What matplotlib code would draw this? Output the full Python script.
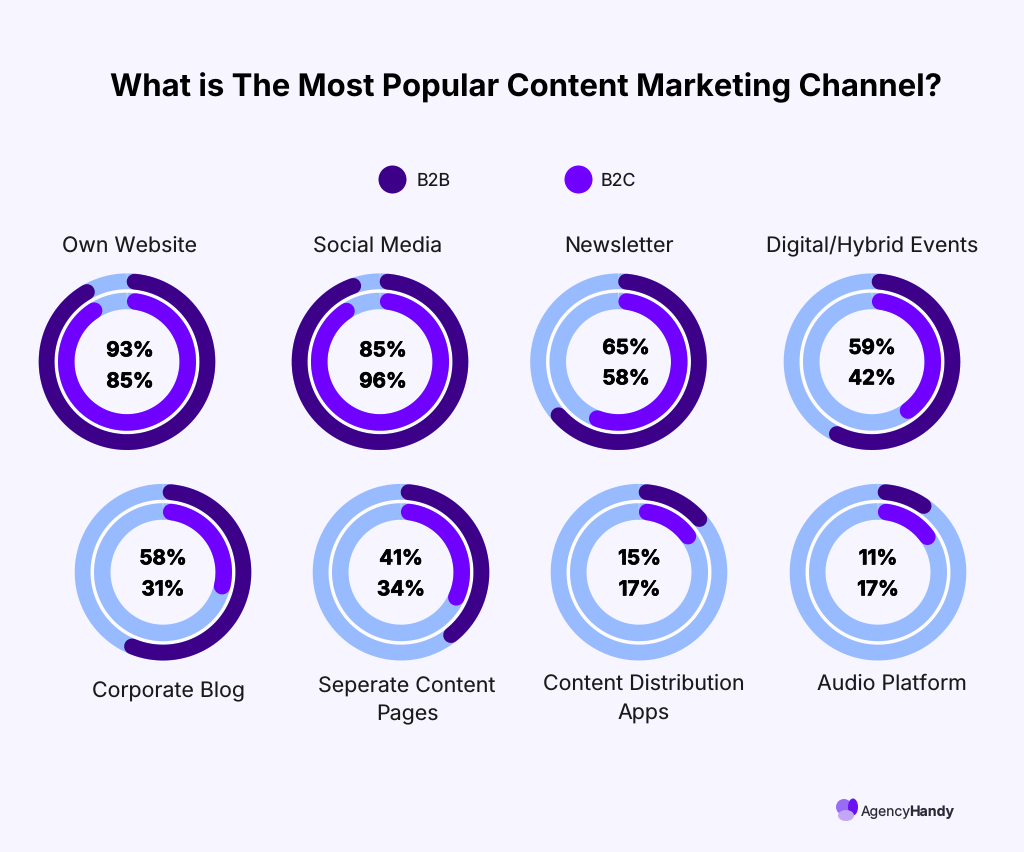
import numpy as np
import matplotlib
matplotlib.use("Agg")
import matplotlib.pyplot as plt
import matplotlib.patheffects as pe
from matplotlib.patches import Ellipse

plt.rcParams["text.hinting"] = "none"

channels = ["Own Website", "Social Media", "Newsletter", "Digital/Hybrid Events",
            "Corporate Blog", "Seperate Content\nPages", "Content Distribution\nApps", "Audio Platform"]
# printed percentages
b2b_label = [93, 85, 65, 59, 58, 41, 15, 11]
b2c_label = [85, 96, 58, 42, 31, 34, 17, 17]
# how far each arc is actually drawn in the picture (percent of the ring)
b2b_arc = [91.7, 94.6, 63.4, 57.2, 56.3, 39.3, 13.5, 9.6]
b2c_arc = [90.9, 90.7, 55.7, 39.9, 28.7, 31.8, 14.9, 15.1]

# layout in pixels
centers = [(127, 362.7), (380, 362.7), (618.5, 362.7), (872, 362.7),
           (163, 573.2), (401, 573.2), (639, 573.2), (878, 573.2)]
name_pos = [(130, 246), (378, 246), (619, 246), (872, 246),
            (168, 692), (407, 701), (644, 698.5), (892, 684)]
value_pos = [(130, 352, 383), (383, 352, 383), (626, 349.5, 380), (872, 349.5, 380),
             (163, 560, 591), (401, 560, 591), (639.5, 560, 591), (878, 560, 591)]

W, H = 1024, 853
BG = "#F7F5FF"
DARK = "#3D0089"
BRIGHT = "#7000FF"
LIGHT = "#98BBFF"
FONT = "Inter"


def px(v):
    return v * 72 / 100


fig = plt.figure(figsize=(W / 100, H / 100), dpi=100, facecolor=BG)
bg = fig.add_axes([0, 0, 1, 1])
bg.set_xlim(0, W)
bg.set_ylim(H, 0)
bg.axis("off")

bg.text(526, 88, "What is The Most Popular Content Marketing Channel?", ha="center", va="center",
        fontsize=22.4, fontweight="bold", family=FONT, color="black")

# legend
for x, col, name, tx in [(392, DARK, "B2B", 417), (578, BRIGHT, "B2C", 601)]:
    bg.scatter([x], [180], s=px(28) ** 2, color=col, linewidths=0)
    bg.text(tx, 181, name, ha="left", va="center", fontsize=12.8, family=FONT, color="#1a1a1a")


def draw_ring(ax, r, width, pct, col, start_deg):
    th = np.linspace(0, 2 * np.pi, 361)
    ax.plot(th, np.full_like(th, r), color=LIGHT, lw=px(width), solid_capstyle="butt")
    arc = np.radians(np.linspace(start_deg, pct * 3.6, 200))
    ax.plot(arc, np.full_like(arc, r), color=col, lw=px(width), solid_capstyle="round")


bold_fx = [pe.withStroke(linewidth=0.5, foreground="black")]

for i, name in enumerate(channels):
    cx, cy = centers[i]
    R = 95
    ax = fig.add_axes([(cx - R) / W, 1 - (cy + R) / H, 2 * R / W, 2 * R / H], projection="polar")
    ax.set_theta_zero_location("N")
    ax.set_theta_direction(-1)
    ax.set_ylim(0, R)
    ax.axis("off")
    ax.patch.set_alpha(0)
    th = np.linspace(0, 2 * np.pi, 361)
    # pale gap between the two rings
    ax.plot(th, np.full_like(th, 70.7), color="#FDFCFF", lw=px(3.6), zorder=1)
    draw_ring(ax, 80.4, 15.8, b2b_arc[i], DARK, 5.4)
    draw_ring(ax, 60.75, 16.5, b2c_arc[i], BRIGHT, 7.7)

    vx, vy1, vy2 = value_pos[i]
    for vy, val in [(vy1, b2b_label[i]), (vy2, b2c_label[i])]:
        bg.text(vx, vy, f"{val}%", ha="center", va="center", fontsize=14.8,
                fontweight="bold", family=FONT, color="black", path_effects=bold_fx)
    nx, ny = name_pos[i]
    bg.text(nx, ny, name, ha="center", va="center", fontsize=15.4, family=FONT,
            color="#1a1a1a", linespacing=1.55)

# logo
bg.add_patch(Ellipse((844, 808), 16, 16, color="#9A6BF5", lw=0))
bg.add_patch(Ellipse((853, 808), 10, 17, color="#6A12F0", lw=0))
bg.add_patch(Ellipse((846, 816.5), 16, 11, color="#C3A6F8", lw=0))
bg.text(861, 812, "Agency", ha="left", va="center", fontsize=10, family=FONT, color="#2b2b33")
bg.text(909, 812, "Handy", ha="left", va="center", fontsize=10.2, fontweight="bold", family=FONT, color="#2b2b33")

fig.savefig("out.png", dpi=100, facecolor=BG)
